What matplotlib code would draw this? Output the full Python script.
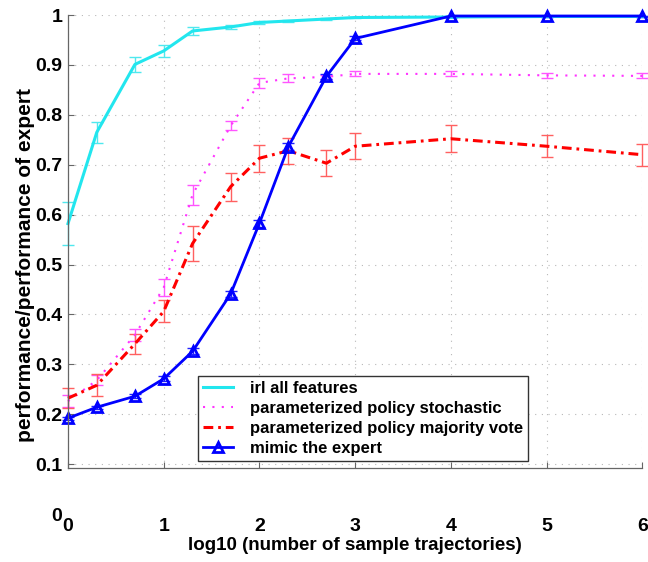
import numpy as np
import matplotlib
matplotlib.use('Agg')
import matplotlib.pyplot as plt

plt.rcParams['font.family'] = ['Liberation Sans', 'DejaVu Sans']
plt.rcParams['font.weight'] = 'bold'
plt.rcParams['axes.labelweight'] = 'bold'

# log10 of number of sample trajectories (1,2,5,10,...,1e6)
log_n = [0, 0.301, 0.699, 1, 1.301, 1.699, 2, 2.301, 2.699, 3, 4, 5, 6]

irl_all = [0.582, 0.765, 0.901, 0.928, 0.968, 0.976, 0.985, 0.988, 0.992, 0.995, 0.996, 0.997, 0.997]
irl_err = [0.043, 0.021, 0.015, 0.012, 0.008, 0.004, 0.003, 0.002, 0.002, 0.001, 0.001, 0.001, 0.001]

stoch = [0.226, 0.268, 0.359, 0.454, 0.640, 0.778, 0.864, 0.873, 0.876, 0.882, 0.882, 0.879, 0.878]
stoch_err = [0.012, 0.010, 0.012, 0.017, 0.020, 0.009, 0.010, 0.008, 0.004, 0.005, 0.005, 0.005, 0.005]

vote = [0.232, 0.258, 0.341, 0.406, 0.542, 0.656, 0.713, 0.728, 0.703, 0.737, 0.752, 0.737, 0.720]
vote_err = [0.020, 0.022, 0.020, 0.022, 0.035, 0.028, 0.027, 0.026, 0.026, 0.026, 0.027, 0.022, 0.022]

mimic = [0.192, 0.214, 0.236, 0.271, 0.326, 0.441, 0.583, 0.736, 0.877, 0.953, 0.998, 0.998, 0.998]
mimic_err = [0.003, 0.003, 0.004, 0.005, 0.006, 0.006, 0.007, 0.007, 0.005, 0.004, 0.001, 0.001, 0.001]

labels = ['irl all features', 'parameterized policy stochastic',
          'parameterized policy majority vote', 'mimic the expert']

x_ticks = [0, 1, 2, 3, 4, 5, 6]
y_ticks = [0, 0.1, 0.2, 0.3, 0.4, 0.5, 0.6, 0.7, 0.8, 0.9, 1]
y_ticklabels = ['0', '0.1', '0.2', '0.3', '0.4', '0.5', '0.6', '0.7', '0.8', '0.9', '1']

y_bot = 0.0916

fig = plt.figure(figsize=(6.48, 5.62), dpi=100)
ax = fig.add_axes([0.1049, 0.0854, 0.8866, 0.8879])

# grid, drawn by hand so it stops at the bottom line
ax.vlines(x_ticks, y_bot, 1, colors='#b8b8b8', linewidth=0.8,
          linestyles=(0, (1, 5)), zorder=0)
ax.hlines(y_ticks[1:], 0, 6, colors='#b8b8b8', linewidth=0.8,
          linestyles=(0, (1, 5)), zorder=0)

ax.errorbar(log_n, irl_all, yerr=irl_err, fmt='none', ecolor='#4fe8ee',
            elinewidth=1, capsize=4, capthick=1, clip_on=False)
ax.errorbar(log_n, stoch, yerr=stoch_err, fmt='none', ecolor='#ff55ff',
            elinewidth=1, capsize=4, capthick=1, clip_on=False)
ax.errorbar(log_n, vote, yerr=vote_err, fmt='none', ecolor='#ff6060',
            elinewidth=1, capsize=4, capthick=1, clip_on=False)
ax.errorbar(log_n, mimic, yerr=mimic_err, fmt='none', ecolor='#2020ff',
            elinewidth=1, capsize=4, capthick=1, clip_on=False)

ax.plot(log_n, irl_all, '-', color='#22e6ee', linewidth=2.2, label=labels[0], clip_on=False)
ax.plot(log_n, stoch, linestyle=(0, (1, 3.5)), color='#ff33ff', linewidth=1.5,
        label=labels[1], clip_on=False)
ax.plot(log_n, vote, linestyle=(0, (3.2, 1.6, 0.9, 1.6)), color='#ff0000', linewidth=2.2,
        label=labels[2], clip_on=False)
ax.plot(log_n, mimic, '-^', color='#0000ff', linewidth=2, markersize=7.5,
        markerfacecolor='none', markeredgewidth=2, label=labels[3], clip_on=False)

ax.set_xlim(0, 6)
ax.set_ylim(0, 1)
ax.set_xticks(x_ticks)
ax.set_yticks(y_ticks)
ax.set_yticklabels(y_ticklabels)

for s in ['top', 'right']:
    ax.spines[s].set_visible(False)
ax.spines['bottom'].set_position(('data', y_bot))
ax.spines['left'].set_bounds(y_bot, 1)
for s in ['bottom', 'left']:
    ax.spines[s].set_color('#666666')
    ax.spines[s].set_linewidth(0.9)

ax.tick_params(axis='both', direction='in', length=4, color='#666666', labelsize=14)
ax.tick_params(axis='x', pad=36)
ax.tick_params(axis='y', pad=4)
ax.yaxis.get_major_ticks()[0].tick1line.set_visible(False)

ax.set_xlabel('log10 (number of sample trajectories)', fontsize=13.5)
ax.xaxis.set_label_coords(0.5, -0.046)
ax.set_ylabel('performance/performance of expert', fontsize=15)
ax.yaxis.set_label_coords(-0.057, 0.5)

leg = ax.legend(loc='lower left', bbox_to_anchor=(0.2265, 0.107), borderaxespad=0,
                fancybox=False, edgecolor='#333333', framealpha=1, fontsize=12,
                handlelength=1.8, handletextpad=1.0, labelspacing=0.3,
                borderpad=0.3, numpoints=1)
leg.get_frame().set_linewidth(1)

fig.savefig('out.png', dpi=100)
